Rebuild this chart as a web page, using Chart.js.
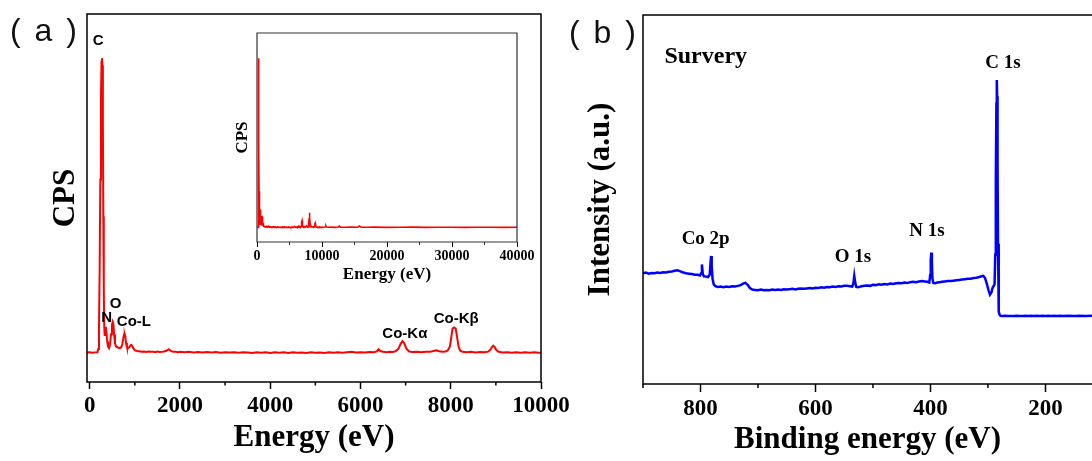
<!DOCTYPE html>
<html><head><meta charset="utf-8">
<script src="https://cdn.jsdelivr.net/npm/chart.js"></script>
<style>
html,body{margin:0;padding:0;background:#fff;overflow:hidden;width:1092px;height:461px;}
#wrap{position:relative;width:1092px;height:461px;overflow:hidden;background:#fff;}
canvas{position:absolute;}
.pl{position:absolute;font-family:"Liberation Sans",Arial,sans-serif;font-size:32px;color:#111;white-space:pre;line-height:1;word-spacing:5px;}
</style></head><body>
<div id="wrap">
<canvas id="cA" width="600" height="461" style="left:0;top:0"></canvas>
<canvas id="cI" width="320" height="280" style="left:220px;top:20px"></canvas>
<canvas id="cB" width="532" height="461" style="left:560px;top:0"></canvas>
<div class="pl" style="left:10px;top:14px">( a )</div>
<div class="pl" style="left:569px;top:16px">( b )</div>
</div>
<script>
// ---------- DATA ----------
// EDS spectrum: [energy eV, CPS (relative)]
const edsSpectrum = [
[-60,8.0],[0,8.05],[60,7.95],[120,8.05],[170,8.1],
[190,9.0],[205,14],[220,30],[235,55],[250,78],[262,87],[272,88],[282,86],[292,70],[302,45],[312,25],[322,15],
[332,12.5],[345,14.5],[358,15.0],[372,13.5],[388,11],[405,9.6],[428,9.2],[450,10.2],[472,13],[492,15.5],[510,16.4],[525,15.8],[540,13],[560,10.5],[585,9.6],[610,9.5],[640,9.3],[670,9.2],[700,9.5],[725,10.4],[745,12.0],[760,12.9],[775,13.0],[790,12.3],[805,10.6],[825,9.5],[850,9.2],[875,9.4],[900,9.9],[920,10.1],[940,9.9],[960,9.3],[985,8.8],[1010,8.6],[1050,8.45],
[1100,8.35],[1150,8.2],[1200,8.3],[1250,8.15],[1300,8.3],[1350,8.2],[1400,8.25],[1450,8.1],[1500,8.3],[1550,8.15],[1600,8.2],[1650,8.3],[1700,8.5],[1750,8.9],[1800,8.45],[1850,8.2],[1900,8.25],[1950,8.1],[2000,8.2],
[2100,8.1],[2200,8.2],[2300,8.05],[2400,8.15],[2500,8.0],[2600,8.15],[2700,8.05],[2800,8.15],[2900,7.95],[3000,8.1],[3100,8.0],[3200,8.1],[3300,7.95],[3400,8.1],[3500,8.0],[3600,7.9],[3700,8.05],[3800,7.95],[3900,8.1],[4000,7.9],[4100,8.05],[4200,7.95],[4300,8.05],[4400,7.9],[4500,8.05],[4600,7.95],[4700,8.0],[4800,7.9],[4900,8.05],[5000,7.95],[5100,8.0],[5200,7.9],[5300,8.05],[5400,7.95],[5500,8.05],[5600,7.95],[5700,8.1],[5800,8.2],[5900,8.0],[6000,8.1],[6100,8.0],[6200,8.15],[6300,8.1],[6360,8.3],[6400,8.9],[6440,8.4],[6500,8.2],[6580,8.1],[6650,8.2],[6720,8.15],
[6780,8.4],[6840,9.0],[6890,10.4],[6930,11.1],[6970,10.5],[7020,9.0],[7080,8.3],[7150,8.15],[7250,8.25],[7350,8.1],[7450,8.25],[7550,8.2],[7620,8.45],[7680,8.6],[7740,8.35],[7820,8.2],[7880,8.3],
[7930,8.5],[7980,9.6],[8010,12.0],[8040,14.5],[8075,14.8],[8110,14.5],[8140,12.2],[8175,9.6],[8210,8.5],[8260,8.2],[8350,8.1],[8450,8.2],[8550,8.05],[8650,8.15],[8750,8.1],[8830,8.25],
[8880,8.8],[8920,9.6],[8945,9.9],[8975,9.5],[9010,8.7],[9060,8.2],[9150,8.05],[9250,8.1],[9350,7.95],[9450,8.05],[9550,7.95],[9650,8.05],[9750,7.95],[9850,8.05],[9950,7.95],[10050,8.0],
[10300,8.0],[10500,8.2],[10600,8.7],[10700,8.1],[11000,8.0],[11500,8.05],[12000,7.95],[12500,8.1],[12650,8.6],[12800,8.05],[13500,8.0],[14500,8.05],[15500,8.0],[15750,8.6],[16000,8.05],[17000,8.0],[18000,8.05],[20000,7.95],[22000,8.0],[24000,8.05],[26000,7.95],[28000,8.0],[30000,8.0],[32000,7.95],[34000,8.0],[36000,8.0],[38000,7.95],[40000,8.0]
];
// XPS survey: [binding energy eV, intensity (a.u.)]
const xpsSpectrum = [
[900,30.0],[895,30.2],[890,29.9],[885,30.1],[880,30.0],[875,30.2],[870,30.1],[865,30.3],[860,30.2],[855,30.4],[850,30.5],[845,30.7],[840,30.8],[836,30.6],[830,30.2],[825,30.0],[820,29.9],[815,29.8],[810,29.6],[805,29.6],[801,29.4],[799,30.0],[797.5,32.4],[796,29.8],[794,29.2],[790,29.1],[787,29.0],[784,29.6],[782.5,33.0],[781.5,34.7],[780.5,32.0],[779,28.5],[777,27.0],[774,26.5],[770,26.3],[765,26.4],[760,26.2],[755,26.4],[750,26.3],[745,26.5],[740,26.4],[735,26.6],[730,26.8],[726,27.2],[722,27.4],[718,26.9],[714,26.0],[710,25.6],[705,25.5],[700,25.4],[695,25.6],[690,25.4],[685,25.5],[680,25.4],[675,25.6],[670,25.5],[665,25.6],[660,25.5],[655,25.7],[650,25.6],[645,25.7],[640,25.8],[635,25.6],[630,25.8],[625,25.9],[620,25.8],[615,25.9],[610,26.0],[605,25.9],[600,26.1],[595,26.0],[590,26.2],[585,26.1],[580,26.3],[575,26.2],[570,26.4],[565,26.3],[560,26.5],[555,26.4],[550,26.6],[545,26.6],[540,26.5],[536,26.4],[534,27.3],[532.5,29.3],[531,27.6],[529,26.3],[526,26.2],[520,26.5],[515,26.6],[510,26.7],[505,26.6],[500,26.9],[495,26.8],[490,27.0],[485,26.9],[480,27.1],[475,27.0],[470,27.2],[465,27.1],[460,27.3],[455,27.4],[450,27.3],[445,27.5],[440,27.4],[435,27.6],[430,27.7],[425,27.6],[420,27.8],[415,27.9],[410,27.8],[405,27.7],[402,27.5],[400.5,29.5],[399.5,33.5],[398.5,35.6],[397.5,33.0],[396.5,28.5],[395,27.4],[392,27.3],[388,27.5],[384,27.6],[380,27.7],[375,27.8],[370,27.9],[365,27.9],[360,28.0],[355,28.1],[350,28.2],[345,28.3],[340,28.4],[335,28.5],[330,28.5],[325,28.7],[320,28.8],[315,29.0],[311,29.2],[308,29.3],[305,28.7],[302,27.2],[299,25.4],[296.5,24.2],[294,24.8],[292,26.0],[290,26.6],[288.5,27.0],[287.3,35],[286.3,55],[285.3,76],[284.6,82.4],[284.0,78],[283.3,60],[282.5,38],[281.7,24],[280.8,19.6],[279.5,18.7],[278,18.5],[275,18.4],[270,18.5],[265,18.4],[260,18.45],[255,18.4],[250,18.5],[245,18.4],[240,18.45],[235,18.5],[230,18.4],[225,18.5],[220,18.45],[215,18.5],[210,18.4],[205,18.5],[200,18.45],[195,18.5],[190,18.4],[185,18.5],[180,18.45],[175,18.5],[170,18.4],[160,18.5],[150,18.45],[140,18.5],[130,18.45],[119,18.5]
];
// tick values
const edsMajorTicks = [0,2000,4000,6000,8000,10000];
const edsMinorTicks = [1000,3000,5000,7000,9000];
const insetMajorTicks = [0,10000,20000,30000,40000];
const insetMinorTicks = [5000,15000,25000,35000];
const xpsMajorTicks = [800,600,400,200];
const xpsMinorTicks = [900,700,500,300];
// peak annotations (anchored in data units)
const edsLabelText = ['C','N','O','Co-L','Co-K\u03b1','Co-K\u03b2'];
const edsLabelE    = [188,377,576,980,6984,8120];
const edsLabelCps  = [92.6,17.3,21.3,16.3,13.2,17.1];
const xpsLabelText = ['Co 2p','O 1s','N 1s','C 1s'];
const xpsLabelE    = [791,535,406,274];
const xpsLabelI    = [39.3,34.5,41.5,87.1];
const xpsTitleText = 'Survery';
const xpsTitleE = 862.8, xpsTitleI = 88.6;

// ---------- RENDER ----------
Chart.defaults.color = '#000';
const SERIF = '"Liberation Serif","Times New Roman",serif';
const SANS = '"Liberation Sans",Arial,sans-serif';
const toXY = arr => arr.map(p => ({x:p[0], y:p[1]}));

function decor(cfg) {
  return {
    id: 'decor',
    afterDraw(chart) {
      const ctx = chart.ctx, a = chart.chartArea, xs = chart.scales.x, ys = chart.scales.y;
      ctx.save();
      ctx.strokeStyle = cfg.frameColor; ctx.lineWidth = cfg.frameWidth; ctx.lineCap = 'square';
      ctx.beginPath();
      ctx.moveTo(a.left, a.bottom); ctx.lineTo(a.left, a.top); ctx.lineTo(a.right, a.top);
      if (cfg.right) ctx.lineTo(a.right, a.bottom);
      ctx.moveTo(a.left, a.bottom); ctx.lineTo(a.right, a.bottom);
      ctx.stroke();
      ctx.lineCap = 'butt';
      ctx.lineWidth = cfg.tickWidth;
      ctx.beginPath();
      for (const v of cfg.minor) {
        const px = xs.getPixelForValue(v);
        ctx.moveTo(px, a.bottom); ctx.lineTo(px, a.bottom + cfg.minorLen);
      }
      ctx.stroke();
      if (cfg.labels) {
        for (const L of cfg.labels) {
          ctx.font = L.font; ctx.fillStyle = '#000';
          ctx.textAlign = L.align || 'center'; ctx.textBaseline = 'middle';
          for (let i = 0; i < L.text.length; i++) {
            ctx.fillText(L.text[i], xs.getPixelForValue(L.x[i]), ys.getPixelForValue(L.y[i]));
          }
        }
      }
      ctx.restore();
    }
  };
}

function xAxis(o) {
  return {
    type:'linear', min:o.min, max:o.max, reverse:!!o.reverse,
    afterBuildTicks: s => { s.ticks = o.major.map(v => ({value:v})); },
    afterFit: s => { s.height = o.height; },
    ticks:{autoSkip:false, maxRotation:0, minRotation:0, padding:o.tickPad, color:'#000',
      font:{family:SERIF, size:o.tickSize, weight:'bold'}, callback: v => String(v)},
    grid:{display:true, drawOnChartArea:false, drawTicks:true, tickLength:o.tickLen, tickColor:'#000', tickWidth:o.tickWidth, color:'#000'},
    border:{display:false},
    title:{display:true, text:o.title, color:'#000', font:{family:SERIF, size:o.titleSize, weight:'bold', lineHeight:1.2}, padding:{top:0, bottom:o.titlePad}}
  };
}
function yAxis(o) {
  return {
    type:'linear', min:o.min, max:o.max,
    afterFit: s => { s.width = o.width; },
    ticks:{display:false}, grid:{display:false}, border:{display:false},
    title:{display:true, text:o.title, color:'#000', font:{family:SERIF, size:o.titleSize, weight:'bold', lineHeight:1.2}, padding:{top:o.titlePad, bottom:0}}
  };
}
const common = {responsive:false, animation:false, devicePixelRatio:1,
  plugins:{legend:{display:false}, tooltip:{enabled:false}}, events:[]};

// Panel (a) main
new Chart(document.getElementById('cA'), {
  type:'scatter',
  data:{datasets:[{data:toXY(edsSpectrum), showLine:true, borderColor:'#ff0000', borderWidth:2, pointRadius:0, tension:0}]},
  options:Object.assign({}, common, {
    layout:{padding:{left:0, top:14, right:59, bottom:0}},
    scales:{
      x: xAxis({min:-60, max:10000, major:edsMajorTicks, height:79, tickPad:3, tickSize:23, tickLen:7, tickWidth:1.5, title:'Energy (eV)', titleSize:31, titlePad:4}),
      y: yAxis({min:0, max:100, width:87, title:'CPS', titleSize:31, titlePad:47})
    }
  }),
  plugins:[decor({frameColor:'#000', frameWidth:1.5, right:true, minor:edsMinorTicks, minorLen:3.5, tickWidth:1.5,
    labels:[{text:edsLabelText, x:edsLabelE, y:edsLabelCps, font:'bold 15px '+SANS}]})]
});

// Inset
new Chart(document.getElementById('cI'), {
  type:'scatter',
  data:{datasets:[{data:toXY(edsSpectrum), showLine:true, borderColor:'#ff0000', borderWidth:1.6, pointRadius:0, tension:0}]},
  options:Object.assign({}, common, {
    layout:{padding:{left:0, top:13, right:23, bottom:0}},
    scales:{
      x: xAxis({min:0, max:40000, major:insetMajorTicks, height:58, tickPad:1, tickSize:14, tickLen:5, tickWidth:1, title:'Energy (eV)', titleSize:17, titlePad:15}),
      y: yAxis({min:1, max:100, width:37, title:'CPS', titleSize:17, titlePad:12})
    }
  }),
  plugins:[decor({frameColor:'#333', frameWidth:1.2, right:true, minor:insetMinorTicks, minorLen:3, tickWidth:1})]
});

// Panel (b)
new Chart(document.getElementById('cB'), {
  type:'scatter',
  data:{datasets:[{data:toXY(xpsSpectrum), showLine:true, borderColor:'#0000ff', borderWidth:2.5, pointRadius:0, tension:0}]},
  options:Object.assign({}, common, {
    layout:{padding:{left:0, top:15, right:0, bottom:0}},
    scales:{
      x: xAxis({min:119, max:900, reverse:true, major:xpsMajorTicks, height:77, tickPad:3, tickSize:23, tickLen:8, tickWidth:1.5, title:'Binding energy (eV)', titleSize:31, titlePad:2}),
      y: yAxis({min:0, max:100, width:83, title:'Intensity (a.u.)', titleSize:31, titlePad:22})
    }
  }),
  plugins:[decor({frameColor:'#000', frameWidth:1.5, right:false, minor:xpsMinorTicks, minorLen:4, tickWidth:1.5,
    labels:[{text:xpsLabelText, x:xpsLabelE, y:xpsLabelI, font:'bold 19px '+SERIF},
            {text:[xpsTitleText], x:[xpsTitleE], y:[xpsTitleI], font:'bold 24px '+SERIF, align:'left'}]})]
});
</script>
</body></html>
